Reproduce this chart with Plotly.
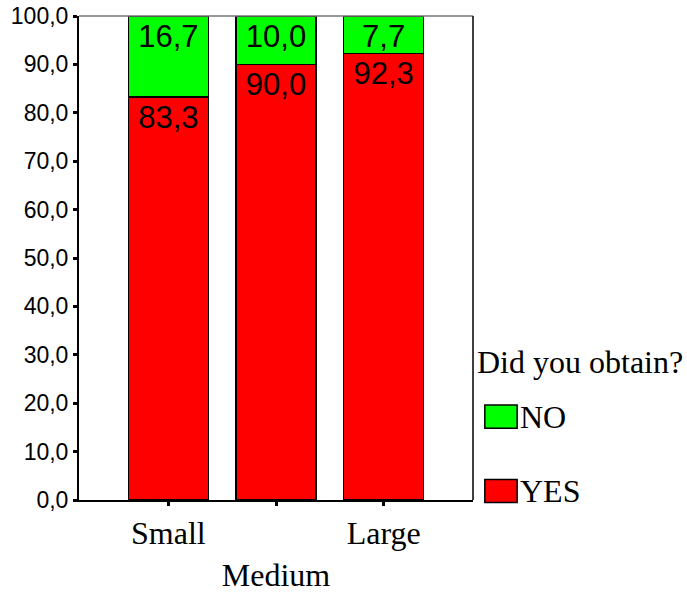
import plotly.graph_objects as go

# datos
sizes = ["Small", "Medium", "Large"]
pct_yes = [83.3, 90.0, 92.3]
pct_no = [16.7, 10.0, 7.7]
legend_title = "Did you obtain?"

GREEN = "#00FF00"
RED = "#FF0000"
SANS = "Arial, Liberation Sans, sans-serif"
SERIF = "Times New Roman, Liberation Serif, serif"


def fmt(v):
    return f"{v:.1f}".replace(".", ",")


fig = go.Figure()
for name, vals, col in [("YES", pct_yes, RED), ("NO", pct_no, GREEN)]:
    fig.add_trace(go.Bar(
        x=sizes, y=vals, name=name,
        marker=dict(color=col, line=dict(color="black", width=1.5)),
        width=0.744,
        text=[fmt(v) for v in vals],
        textposition="inside",
        insidetextanchor="end",
        textangle=0,
        constraintext="none",
        insidetextfont=dict(family=SANS, size=31, color="black"),
        showlegend=False,
    ))

fig.update_layout(
    barmode="stack",
    width=687, height=593,
    margin=dict(l=79, r=214, t=16, b=93),
    paper_bgcolor="white",
    plot_bgcolor="white",
    separators=",.",
    xaxis=dict(
        range=[-0.83, 2.83],
        tickvals=sizes,
        ticktext=["Small", " <br>Medium", "Large"],
        ticks="outside", ticklen=4, tickwidth=3, tickcolor="black",
        showline=True, linecolor="black", linewidth=2,
        tickfont=dict(family=SERIF, size=32, color="black"),
        showgrid=False, automargin=False,
    ),
    yaxis=dict(
        range=[0, 100],
        tickvals=list(range(0, 101, 10)),
        tickformat=".1f",
        ticks="outside", ticklen=4, tickwidth=3, tickcolor="black",
        showline=True, linecolor="black", linewidth=2,
        tickfont=dict(family=SANS, size=23, color="black"),
        showgrid=False, zeroline=False, automargin=False,
    ),
)

# marco superior (gris) y derecho (negro)
fig.add_shape(type="line", xref="paper", yref="paper", x0=0, x1=1, y0=1, y1=1,
              line=dict(color="#777777", width=1.5))
fig.add_shape(type="line", xref="paper", yref="paper", x0=1, x1=1, y0=0, y1=1,
              line=dict(color="black", width=1.5))

# leyenda manual
fig.add_annotation(text=legend_title, xref="paper", yref="paper", x=1.006, y=0.285,
                   xanchor="left", yanchor="middle", showarrow=False,
                   font=dict(family=SERIF, size=32, color="black"))
for label, col, yc in [("NO", GREEN, 0.1725), ("YES", RED, 0.0186)]:
    fig.add_shape(type="rect", xref="paper", yref="paper",
                  x0=1.030, x1=1.112, y0=yc - 0.024, y1=yc + 0.024,
                  fillcolor=col, line=dict(color="black", width=1.5))
    fig.add_annotation(text=label, xref="paper", yref="paper", x=1.113, y=yc,
                       xanchor="left", yanchor="middle", showarrow=False,
                       font=dict(family=SERIF, size=32, color="black"))

# quitar el margen por defecto del body para que la figura ocupe la ventana
fig.write_html("out.html", config={"displayModeBar": False},
               post_script="document.body.style.margin='0';")
